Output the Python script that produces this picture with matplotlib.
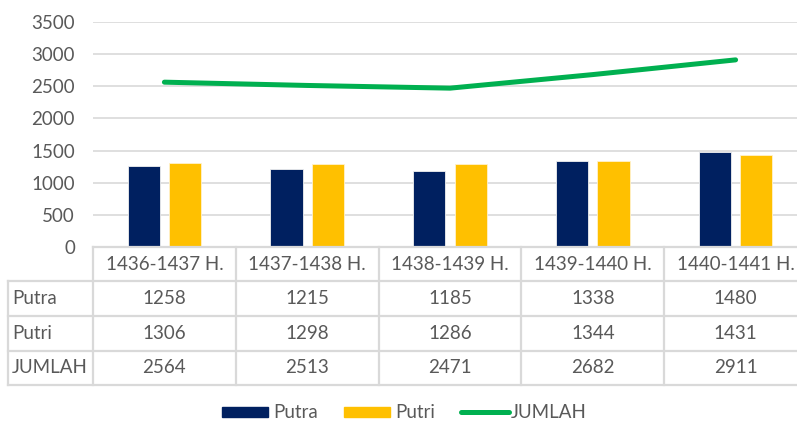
import matplotlib
matplotlib.use("Agg")
import matplotlib.pyplot as plt
from matplotlib.patches import Rectangle
from matplotlib.lines import Line2D
import numpy as np

categories = ["1436-1437 H.", "1437-1438 H.", "1438-1439 H.", "1439-1440 H.", "1440-1441 H."]
putra = [1258, 1215, 1185, 1338, 1480]
putri = [1306, 1298, 1286, 1344, 1431]
jumlah = [2564, 2513, 2471, 2682, 2911]
yticks = [0, 500, 1000, 1500, 2000, 2500, 3000, 3500]

C_PUTRA = "#002060"
C_PUTRI = "#FFC000"
C_JUMLAH = "#00B050"
C_TEXT = "#595959"
C_GRID = "#D9D9D9"
FONT = "Lato"
FS = 13.5

W, H = 797, 423
fig = plt.figure(figsize=(W / 100, H / 100), dpi=100)
plt.rcParams['font.family'] = [FONT, 'DejaVu Sans']

def fx(px):
    return px / W

def fy(py):
    return 1 - py / H

x_left, x_right = 93, 807
y_top, y_bot = 22, 247
ax = fig.add_axes([fx(x_left), fy(y_bot), fx(x_right - x_left), (y_bot - y_top) / H])
x = np.arange(len(categories))
bw = 0.225
off = 0.145
ax.bar(x - off, putra, bw, color=C_PUTRA, edgecolor="#f0f0f0", linewidth=0.6, zorder=3)
ax.bar(x + off, putri, bw, color=C_PUTRI, edgecolor="#fff2cc", linewidth=0.6, zorder=3)
ax.plot(x, jumlah, color=C_JUMLAH, linewidth=3.6, solid_capstyle="round", zorder=4)
ax.set_xlim(-0.5, 4.5)
ax.set_ylim(0, 3500)
ax.set_yticks(yticks)
ax.set_yticklabels([str(v) for v in yticks], fontsize=FS, color=C_TEXT)
ax.set_xticks([])
ax.tick_params(axis="y", length=0, pad=13)
ax.grid(axis="y", color=C_GRID, linewidth=1.2, zorder=0)
for s in ax.spines.values():
    s.set_visible(False)

# data table
label_w = (x_left - 8) / ((x_right - x_left) / 5)
tab_top, tab_bot = 247, 385
tax = fig.add_axes([fx(8), fy(tab_bot), fx(x_right - 8), (tab_bot - tab_top) / H])
tax.set_xlim(-0.5 - label_w, 4.5)
tax.set_ylim(4, 0)
tax.axis("off")
lc = dict(color=C_GRID, linewidth=1.6, clip_on=False)
tax.plot([-0.5, 4.5], [0, 0], **lc)
for r in [1, 2, 3, 4]:
    tax.plot([-0.5 - label_w, 4.5], [r, r], **lc)
tax.plot([-0.5 - label_w, -0.5 - label_w], [1, 4], **lc)
for c in range(6):
    tax.plot([c - 0.5, c - 0.5], [0, 4], **lc)
rows = [("Putra", putra), ("Putri", putri), ("JUMLAH", jumlah)]
for i, cat in enumerate(categories):
    tax.text(i, 0.5, cat, ha="center", va="center", fontsize=FS, color=C_TEXT)
for r, (name, vals) in enumerate(rows, start=1):
    tax.text(-0.5 - label_w + 0.03, r + 0.5, name, ha="left", va="center", fontsize=FS, color=C_TEXT)
    for i, v in enumerate(vals):
        tax.text(i, r + 0.5, str(v), ha="center", va="center", fontsize=FS, color=C_TEXT)

# legend
ly = 412
fig.patches.append(Rectangle((fx(222), fy(ly + 5)), fx(46), 10 / H, transform=fig.transFigure, color=C_PUTRA))
fig.text(fx(273), fy(ly), "Putra", fontsize=FS, color=C_TEXT, va="center", ha="left")
fig.patches.append(Rectangle((fx(344), fy(ly + 5)), fx(46), 10 / H, transform=fig.transFigure, color=C_PUTRI))
fig.text(fx(395), fy(ly), "Putri", fontsize=FS, color=C_TEXT, va="center", ha="left")
fig.lines.append(Line2D([fx(461), fx(509)], [fy(ly), fy(ly)], transform=fig.transFigure, color=C_JUMLAH, linewidth=3.6, solid_capstyle="round"))
fig.text(fx(511), fy(ly), "JUMLAH", fontsize=FS, color=C_TEXT, va="center", ha="left")

fig.savefig("out.png", dpi=100, facecolor="white")
